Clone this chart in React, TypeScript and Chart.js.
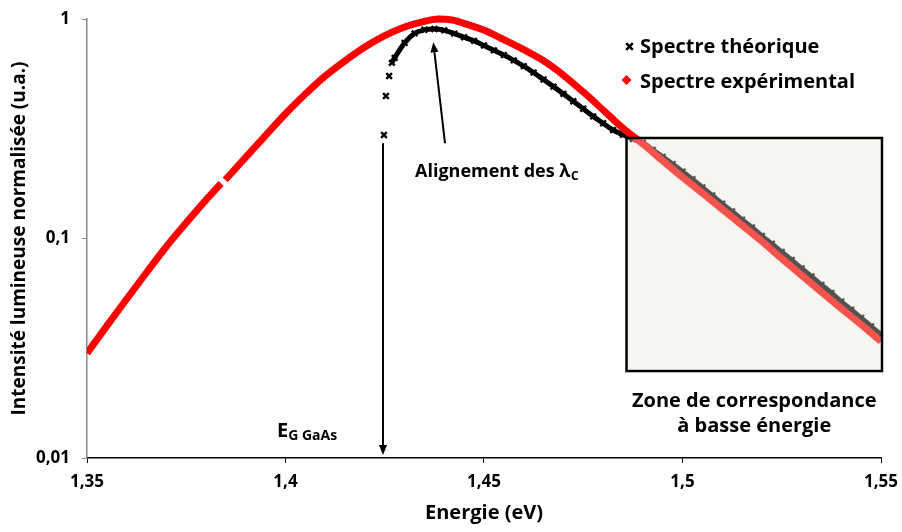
import React, { useEffect, useRef } from "react";
import { Chart, registerables } from "chart.js";

Chart.register(...registerables);

const FONT = "'Open Sans', sans-serif";

const seriesNames = ["Spectre théorique", "Spectre expérimental"];
const xTickValues = [1.35, 1.4, 1.45, 1.5, 1.55];
const yTickValues = [0.01, 0.1, 1];

// Experimental spectrum (red)
const expEnergy = [
  1.35, 1.355, 1.36, 1.365, 1.37, 1.375, 1.38, 1.3838, 1.3848, 1.39, 1.395, 1.4,
  1.405, 1.41, 1.415, 1.42, 1.425, 1.43, 1.434, 1.4385, 1.442, 1.445, 1.45, 1.455,
  1.46, 1.465, 1.47, 1.475, 1.48, 1.485, 1.49, 1.495, 1.5, 1.505, 1.51, 1.515, 1.52,
  1.525, 1.53, 1.535, 1.54, 1.545, 1.55,
];
const expIntensity = [
  0.03, 0.04, 0.053, 0.07, 0.092, 0.118, 0.15, 0.178, 0.185, 0.235, 0.295, 0.37,
  0.455, 0.55, 0.645, 0.745, 0.84, 0.92, 0.965, 1.0, 0.99, 0.955, 0.89, 0.805,
  0.725, 0.645, 0.555, 0.465, 0.385, 0.318, 0.27, 0.226, 0.19, 0.161, 0.136, 0.115, 0.097,
  0.081, 0.068, 0.057, 0.048, 0.0405, 0.034,
];
const expGapAfter = 7; // missing points between index 7 and 8

// Theoretical spectrum (black)
const theoEnergy = [
  1.4248, 1.4253, 1.4261, 1.4268, 1.4275, 1.43, 1.4325, 1.435, 1.4375, 1.44, 1.4425,
  1.445, 1.4475, 1.45, 1.4525, 1.455, 1.4575, 1.46, 1.4625, 1.465, 1.4675, 1.47,
  1.4725, 1.475, 1.4775, 1.48, 1.4825, 1.485, 1.4875, 1.49, 1.4925, 1.495, 1.4975,
  1.5, 1.5025, 1.505, 1.5075, 1.51, 1.5125, 1.515, 1.5175, 1.52, 1.5225, 1.525,
  1.5275, 1.53, 1.5325, 1.535, 1.5375, 1.54, 1.5425, 1.545, 1.5475, 1.55,
];
const theoIntensity = [
  0.296, 0.446, 0.55, 0.631, 0.665, 0.778, 0.86, 0.893, 0.9, 0.888, 0.858,
  0.826, 0.795, 0.757, 0.72, 0.685, 0.648, 0.61, 0.57, 0.53, 0.492, 0.456,
  0.422, 0.39, 0.36, 0.335, 0.312, 0.297, 0.284, 0.273, 0.2535, 0.2355, 0.2183,
  0.2018, 0.1862, 0.171, 0.157, 0.144, 0.1327, 0.1219, 0.1122, 0.1028, 0.0946, 0.0869,
  0.0798, 0.0731, 0.0671, 0.0615, 0.0565, 0.0516, 0.0474, 0.0435, 0.0398, 0.0365,
];
const theoSparseCount = 4; // first isolated markers, not joined

// Annotation anchors (data coordinates)
const zoneBox = { x1: 1.4859, x2: 1.55025, yTop: 0.287, yBottom: 0.0249 };
const gapArrow = { x: 1.42456, yFrom: 0.2716, yTo: 0.01032 };
const peakArrow = { xFrom: 1.44018, yFrom: 0.2716, xTo: 1.43723, yTo: 0.7829 };
const egLabel = { x: 1.39786, y: 0.01247 };
const lambdaLabel = { x: 1.43262, y: 0.1913 };

const RED = "#ff0000";

function drawArrow(ctx: CanvasRenderingContext2D, x1: number, y1: number, x2: number, y2: number) {
  const ang = Math.atan2(y2 - y1, x2 - x1);
  const headLen = 10;
  const headHalf = 4;
  const bx = x2 - headLen * Math.cos(ang);
  const by = y2 - headLen * Math.sin(ang);
  ctx.beginPath();
  ctx.moveTo(x1, y1);
  ctx.lineTo(bx, by);
  ctx.lineWidth = 2;
  ctx.strokeStyle = "#000";
  ctx.stroke();
  ctx.beginPath();
  ctx.moveTo(x2, y2);
  ctx.lineTo(bx + headHalf * Math.sin(ang), by - headHalf * Math.cos(ang));
  ctx.lineTo(bx - headHalf * Math.sin(ang), by + headHalf * Math.cos(ang));
  ctx.closePath();
  ctx.fillStyle = "#000";
  ctx.fill();
}

const annotationPlugin = {
  id: "annotationPlugin",
  afterDatasetsDraw(chart: any) {
    const { ctx } = chart;
    const x = chart.scales.x;
    const y = chart.scales.y;
    ctx.save();
    // Zone box (semi-transparent overlay)
    const bx1 = x.getPixelForValue(zoneBox.x1);
    const bx2 = x.getPixelForValue(zoneBox.x2);
    const by1 = y.getPixelForValue(zoneBox.yTop);
    const by2 = y.getPixelForValue(zoneBox.yBottom);
    ctx.fillStyle = "rgba(229,227,217,0.36)";
    ctx.fillRect(bx1, by1, bx2 - bx1, by2 - by1);
    ctx.lineWidth = 2.5;
    ctx.strokeStyle = "#000";
    ctx.strokeRect(bx1, by1, bx2 - bx1, by2 - by1);

    ctx.fillStyle = "#000";
    ctx.font = `bold 20px ${FONT}`;
    ctx.textAlign = "center";
    ctx.textBaseline = "alphabetic";
    ctx.fillText("Zone de correspondance", (bx1 + bx2) / 2, by2 + 36);
    ctx.fillText("à basse énergie", (bx1 + bx2) / 2, by2 + 61);

    // arrows
    drawArrow(
      ctx,
      x.getPixelForValue(gapArrow.x),
      y.getPixelForValue(gapArrow.yFrom),
      x.getPixelForValue(gapArrow.x),
      y.getPixelForValue(gapArrow.yTo)
    );
    drawArrow(
      ctx,
      x.getPixelForValue(peakArrow.xFrom),
      y.getPixelForValue(peakArrow.yFrom),
      x.getPixelForValue(peakArrow.xTo),
      y.getPixelForValue(peakArrow.yTo)
    );

    // E_G GaAs
    ctx.textAlign = "left";
    ctx.fillStyle = "#000";
    const ex = x.getPixelForValue(egLabel.x);
    const ey = y.getPixelForValue(egLabel.y);
    ctx.font = `bold 20px ${FONT}`;
    ctx.fillText("E", ex, ey);
    const ew = ctx.measureText("E").width;
    ctx.font = `bold 14px ${FONT}`;
    ctx.fillText("G GaAs", ex + ew, ey + 3);

    // Alignement des λC
    const lx = x.getPixelForValue(lambdaLabel.x);
    const ly = y.getPixelForValue(lambdaLabel.y);
    ctx.font = `bold 18px ${FONT}`;
    const mainText = "Alignement des λ";
    ctx.fillText(mainText, lx, ly);
    const lw = ctx.measureText(mainText).width;
    ctx.font = `bold 12px ${FONT}`;
    ctx.fillText("C", lx + lw + 0.5, ly + 3.5);
    ctx.restore();
  },
  afterDraw(chart: any) {
    const { ctx } = chart;
    ctx.save();
    // legend: theoretical
    const mx = 629.5;
    const tx = 640;
    const y1 = 46.5;
    const y2 = 80;
    ctx.strokeStyle = "#000";
    ctx.lineWidth = 2.5;
    const h = 3.3;
    ctx.beginPath();
    ctx.moveTo(mx - h, y1 - h);
    ctx.lineTo(mx + h, y1 + h);
    ctx.moveTo(mx + h, y1 - h);
    ctx.lineTo(mx - h, y1 + h);
    ctx.stroke();
    // legend: experimental diamond
    const d = 5;
    ctx.fillStyle = RED;
    ctx.beginPath();
    ctx.moveTo(mx - 3, y2 - d);
    ctx.lineTo(mx - 3 + d, y2);
    ctx.lineTo(mx - 3, y2 + d);
    ctx.lineTo(mx - 3 - d, y2);
    ctx.closePath();
    ctx.fill();
    ctx.fillStyle = "#000";
    ctx.font = `bold 20px ${FONT}`;
    ctx.textAlign = "left";
    ctx.textBaseline = "alphabetic";
    ctx.fillText(seriesNames[0], tx, 53.3);
    ctx.fillText(seriesNames[1], tx, 88.3);
    ctx.restore();
  },
};

export default function App() {
  const canvasRef = useRef<HTMLCanvasElement | null>(null);

  useEffect(() => {
    if (!canvasRef.current) return;
    const theoData = theoEnergy.map((e, i) => ({ x: e, y: theoIntensity[i] }));
    const expData = expEnergy.map((e, i) => ({ x: e, y: expIntensity[i] }));
    const chart = new Chart(canvasRef.current, {
      type: "scatter",
      data: {
        datasets: [
          {
            label: seriesNames[0],
            data: theoData,
            order: 2,
            showLine: true,
            borderColor: "#000",
            borderWidth: 5,
            cubicInterpolationMode: "monotone",
            pointStyle: "crossRot",
            pointRadius: 4,
            pointBorderWidth: 2.4,
            pointBorderColor: "#000",
            pointBackgroundColor: "#000",
            segment: {
              borderColor: (c: any) => (c.p0DataIndex < theoSparseCount - 1 ? "rgba(0,0,0,0)" : "#000"),
            },
          } as any,
          {
            label: seriesNames[1],
            data: expData,
            order: 1,
            showLine: true,
            borderColor: RED,
            borderWidth: 7,
            borderCapStyle: "butt",
            cubicInterpolationMode: "monotone",
            pointRadius: 0,
            pointStyle: "rectRot",
            pointBackgroundColor: RED,
            clip: { left: 0, top: 5, right: 5, bottom: 5 },
            segment: {
              borderColor: (c: any) => (c.p0DataIndex === expGapAfter ? "rgba(0,0,0,0)" : RED),
            },
          } as any,
        ],
      },
      options: {
        animation: false,
        responsive: false,
        events: [],
        layout: { padding: { left: 0, top: 19, right: 21, bottom: 0 } },
        plugins: {
          legend: { display: false },
          tooltip: { enabled: false },
        },
        scales: {
          x: {
            type: "linear",
            min: 1.35,
            max: 1.55,
            afterBuildTicks: (s: any) => {
              s.ticks = xTickValues.map((v) => ({ value: v }));
            },
            afterFit: (s: any) => {
              s.height = 74;
              s.paddingLeft = 0;
              s.paddingRight = 0;
            },
            ticks: {
              callback: (v: any) => String(v).replace(".", ","),
              color: "#000",
              font: { family: FONT, size: 17, weight: "bold" },
              padding: 9,
              maxRotation: 0,
              autoSkip: false,
            },
            grid: {
              display: true,
              drawOnChartArea: false,
              drawTicks: true,
              tickLength: 5,
              color: "#000",
              lineWidth: 1,
            },
            border: { display: true, color: "#000", width: 1.5 },
            title: {
              display: true,
              text: "Energie (eV)",
              color: "#000",
              font: { family: FONT, size: 20, weight: "bold" },
              padding: { top: 0, bottom: 7 },
            },
          },
          y: {
            type: "logarithmic",
            min: 0.01,
            max: 1,
            afterBuildTicks: (s: any) => {
              s.ticks = yTickValues.map((v) => ({ value: v, major: true }));
            },
            afterFit: (s: any) => {
              s.width = 87;
              s.paddingTop = 0;
              s.paddingBottom = 0;
            },
            ticks: {
              callback: (v: any) => String(v).replace(".", ","),
              color: "#000",
              font: { family: FONT, size: 17, weight: "bold" },
              padding: 12,
              autoSkip: false,
            },
            grid: {
              display: true,
              drawOnChartArea: false,
              drawTicks: true,
              tickLength: 5,
              color: "#888",
              lineWidth: 1,
            },
            border: { display: true, color: "#888", width: 1.5 },
            title: {
              display: true,
              text: "Intensité lumineuse normalisée (u.a.)",
              color: "#000",
              font: { family: FONT, size: 19, weight: "bold" },
              padding: { top: 8, bottom: 0 },
            },
          },
        },
      } as any,
      plugins: [annotationPlugin],
    });
    return () => chart.destroy();
  }, []);

  return (
    <div style={{ position: "absolute", left: 0, top: 0, width: 902, height: 532, background: "#fff" }}>
      <canvas ref={canvasRef} width={902} height={532} style={{ display: "block" }} />
    </div>
  );
}
